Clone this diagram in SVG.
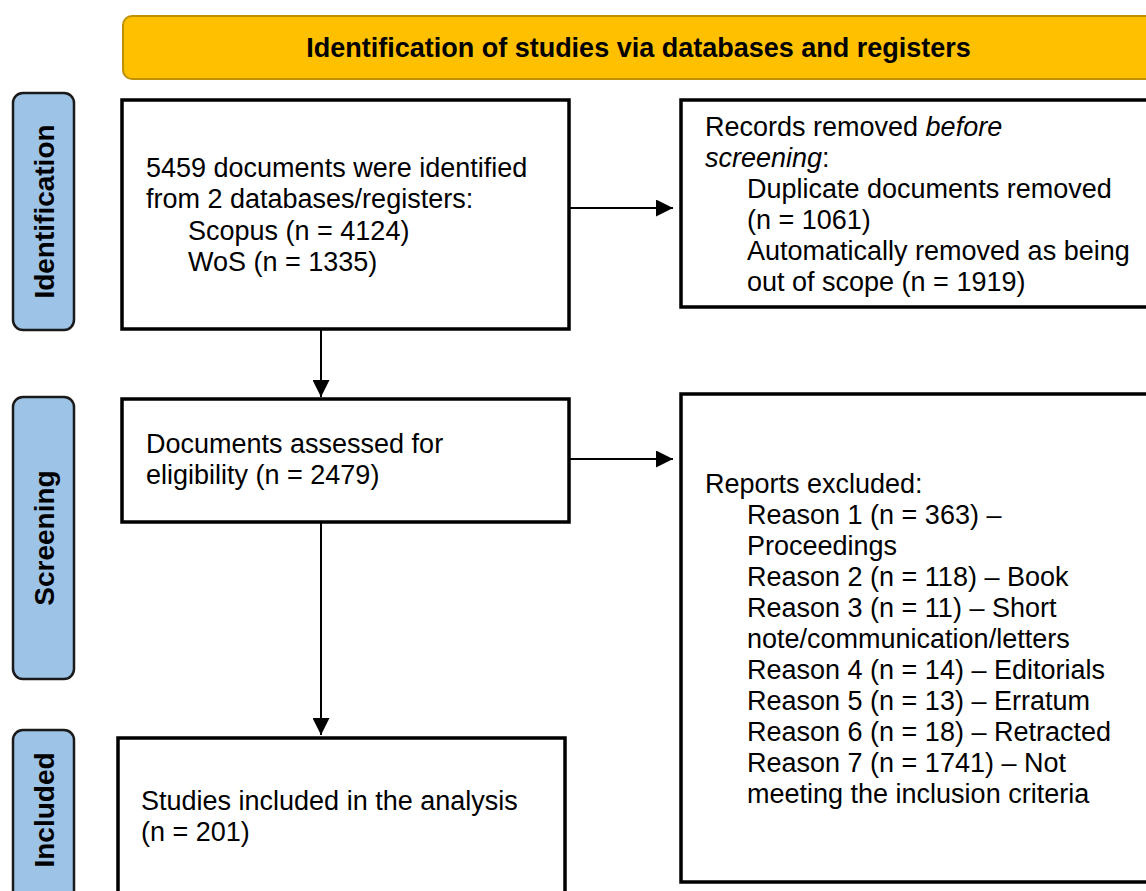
<svg xmlns="http://www.w3.org/2000/svg" width="1146" height="891" viewBox="0 0 1146 891">
<defs>
<style>
.box{fill:#ffffff;stroke:#000000;stroke-width:3.5}
.lab{fill:#9DC3E6;stroke:#1a1a1a;stroke-width:2.5}
.t{font-family:"Liberation Sans",Arial,sans-serif;font-size:27px;fill:#000000}
.b{font-family:"Liberation Sans",Arial,sans-serif;font-size:27px;font-weight:bold;fill:#000000}
.vl{font-family:"Liberation Sans",Arial,sans-serif;font-size:28px;font-weight:bold;fill:#000000;text-anchor:middle}
.edge{stroke:#000000;stroke-width:2;fill:none}
</style>
<marker id="arr" viewBox="0 0 10 10" refX="10" refY="5" markerWidth="17" markerHeight="17" markerUnits="userSpaceOnUse" orient="auto">
<path d="M0,0 L10,5 L0,10 Z" fill="#000000"/>
</marker>
</defs>
<rect width="1146" height="891" fill="#ffffff"/>

<g id="banner">
<rect x="123" y="16" width="1040" height="63" rx="9" fill="#FFC000" stroke="#BF9000" stroke-width="2"/>
<text class="b" x="638.5" y="57" text-anchor="middle">Identification of studies via databases and registers</text>
</g>

<g id="label-identification">
<rect class="lab" x="13" y="93" width="61" height="237" rx="10"/>
<text class="vl" transform="translate(53.5,211.5) rotate(-90)">Identification</text>
</g>
<g id="label-screening">
<rect class="lab" x="13" y="397" width="61" height="282" rx="10"/>
<text class="vl" transform="translate(53.5,538) rotate(-90)">Screening</text>
</g>
<g id="label-included">
<rect class="lab" x="13" y="730" width="61" height="200" rx="10"/>
<text class="vl" transform="translate(53.5,810) rotate(-90)">Included</text>
</g>

<g id="node-identified">
<rect class="box" x="122" y="100" width="447" height="229"/>
<text class="t"><tspan x="146" y="177">5459 documents were identified</tspan><tspan x="146" y="208">from 2 databases/registers:</tspan><tspan x="188" y="240">Scopus (n = 4124)</tspan><tspan x="188" y="271">WoS (n = 1335)</tspan></text>
</g>

<g id="node-removed">
<rect class="box" x="681" y="100" width="480" height="207"/>
<text class="t"><tspan x="705" y="136">Records removed <tspan font-style="italic">before</tspan></tspan><tspan x="705" y="167" font-style="italic">screening</tspan><tspan>:</tspan><tspan x="747" y="198">Duplicate documents removed</tspan><tspan x="747" y="229">(n = 1061)</tspan><tspan x="747" y="260">Automatically removed as being</tspan><tspan x="747" y="291">out of scope (n = 1919)</tspan></text>
</g>

<g id="node-assessed">
<rect class="box" x="122" y="399" width="447" height="123"/>
<text class="t"><tspan x="146" y="453">Documents assessed for</tspan><tspan x="146" y="484">eligibility (n = 2479)</tspan></text>
</g>

<g id="node-excluded">
<rect class="box" x="681" y="394" width="480" height="488"/>
<text class="t"><tspan x="705" y="493">Reports excluded:</tspan><tspan x="747" y="524">Reason 1 (n = 363) –</tspan><tspan x="747" y="555">Proceedings</tspan><tspan x="747" y="586">Reason 2 (n = 118) – Book</tspan><tspan x="747" y="617">Reason 3 (n = 11) – Short</tspan><tspan x="747" y="648">note/communication/letters</tspan><tspan x="747" y="679">Reason 4 (n = 14) – Editorials</tspan><tspan x="747" y="710">Reason 5 (n = 13) – Erratum</tspan><tspan x="747" y="741">Reason 6 (n = 18) – Retracted</tspan><tspan x="747" y="772">Reason 7 (n = 1741) – Not</tspan><tspan x="747" y="803">meeting the inclusion criteria</tspan></text>
</g>

<g id="node-included">
<rect class="box" x="118" y="738" width="447" height="200"/>
<text class="t"><tspan x="141" y="810">Studies included in the analysis</tspan><tspan x="141" y="841">(n = 201)</tspan></text>
</g>

<g id="connectors">
<line class="edge" x1="569" y1="208" x2="673" y2="208" marker-end="url(#arr)"/>
<line class="edge" x1="569" y1="459" x2="673" y2="459" marker-end="url(#arr)"/>
<line class="edge" x1="321" y1="329" x2="321" y2="397" marker-end="url(#arr)"/>
<line class="edge" x1="321" y1="522" x2="321" y2="735" marker-end="url(#arr)"/>
</g>
</svg>
